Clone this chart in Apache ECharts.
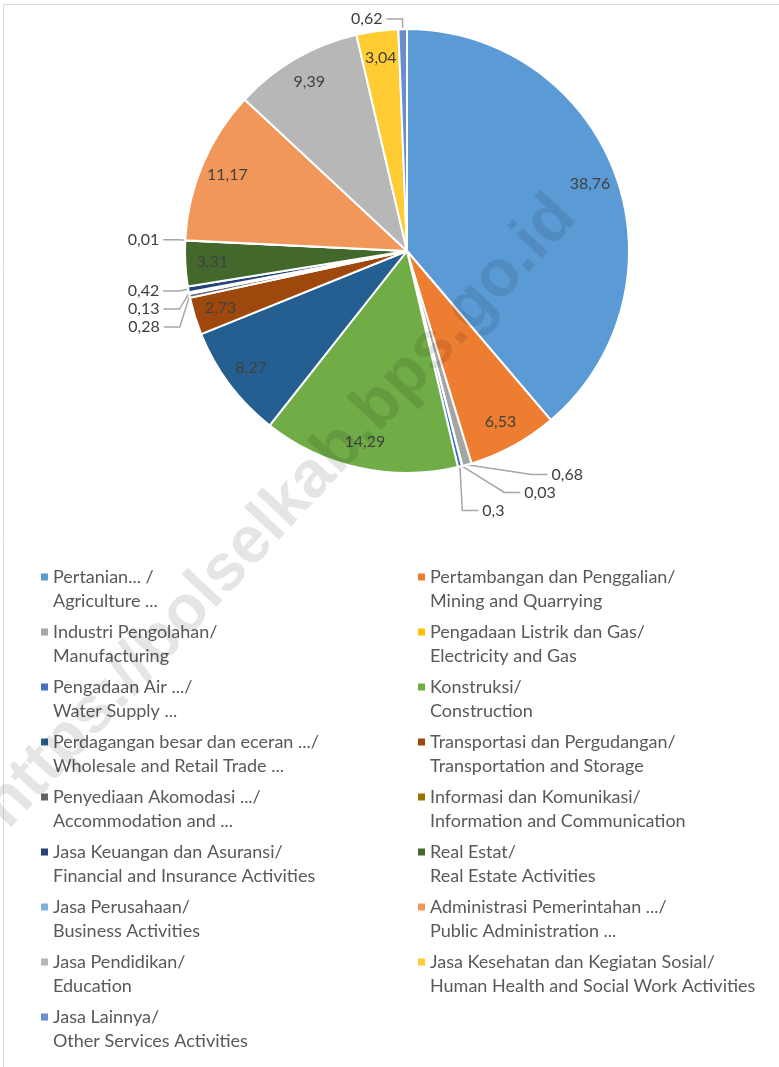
<!DOCTYPE html>
<html>
<head>
<meta charset="utf-8">
<script src="https://cdn.jsdelivr.net/npm/echarts@6/dist/echarts.min.js"></script>
<style>
html,body{margin:0;padding:0;background:#fff;}
#chart{width:779px;height:1067px;}
</style>
</head>
<body>
<div id="chart"></div>
<script>
// ---- data ----
const namesId = [
  'Pertanian... /', 'Pertambangan dan Penggalian/', 'Industri Pengolahan/',
  'Pengadaan Listrik dan Gas/', 'Pengadaan Air .../', 'Konstruksi/',
  'Perdagangan besar dan eceran .../', 'Transportasi dan Pergudangan/',
  'Penyediaan Akomodasi .../', 'Informasi dan Komunikasi/',
  'Jasa Keuangan dan Asuransi/', 'Real Estat/', 'Jasa Perusahaan/',
  'Administrasi Pemerintahan .../', 'Jasa Pendidikan/',
  'Jasa Kesehatan dan Kegiatan Sosial/', 'Jasa Lainnya/'
];
const namesEn = [
  'Agriculture ...', 'Mining and Quarrying', 'Manufacturing',
  'Electricity and Gas', 'Water Supply ...', 'Construction',
  'Wholesale and Retail Trade ...', 'Transportation and Storage',
  'Accommodation and ...', 'Information and Communication',
  'Financial and Insurance Activities', 'Real Estate Activities', 'Business Activities',
  'Public Administration ...', 'Education',
  'Human Health and Social Work Activities', 'Other Services Activities'
];
const values = [38.76, 6.53, 0.68, 0.03, 0.3, 14.29, 8.27, 2.73, 0.28, 0.13, 0.42, 3.31, 0.01, 11.17, 9.39, 3.04, 0.62];
const colors = ['#5B9BD5', '#ED7D31', '#A5A5A5', '#FFC000', '#4472C4', '#70AD47',
  '#255E91', '#9E480E', '#636363', '#997300', '#264478', '#43682B',
  '#7CAFDD', '#F1975A', '#B7B7B7', '#FFCD33', '#698ED0'];

// ---- build ----
const names = namesId.map((n, i) => n + '\n' + namesEn[i]);
const fmt = v => String(v).replace('.', ',');
const FONT = 'Lato';
const CENTER = [407, 251];
const R = 222;

const mainData = values.map((v, i) => ({
  name: names[i], value: v,
  itemStyle: { color: colors[i] },
  label: { show: v < 1 },
  labelLine: { show: v < 1 }
}));
const innerLabelData = values.map((v, i) => ({
  name: names[i], value: v,
  label: { show: v >= 1 }
}));

const legendBase = {
  orient: 'vertical',
  padding: 0,
  itemWidth: 7,
  itemHeight: 31,
  itemGap: 7,
  icon: 'path://M0,0L7,0L7,7L0,7Z M0,31L0.01,31L0.01,30.99Z',
  selectedMode: false,
  itemStyle: { borderWidth: 0 },
  textStyle: {
    fontFamily: FONT, fontSize: 18, color: '#595959', lineHeight: 24
  }
};

const chart = echarts.init(document.getElementById('chart'), null, { renderer: 'canvas' });
chart.setOption({
  animation: false,
  backgroundColor: '#fff',
  color: colors,
  legend: [
    Object.assign({}, legendBase, { left: 41, top: 565, data: names.filter((_, i) => i % 2 === 0) }),
    Object.assign({}, legendBase, { left: 418, top: 565, data: names.filter((_, i) => i % 2 === 1) })
  ],
  graphic: [
    { type: 'rect', silent: true, z: -10, shape: { x: 3.5, y: 4.5, width: 800, height: 1100 },
      style: { fill: null, stroke: '#D9D9D9', lineWidth: 1 } },
    { type: 'text', silent: true, z: 100, x: 280, y: 512, rotation: 47 * Math.PI / 180,
      style: { text: 'https://bolselkab.bps.go.id', fontFamily: 'Liberation Sans', fontWeight: 'bold',
        fontSize: 66, fill: 'rgba(0,0,0,0.10)', align: 'center', verticalAlign: 'middle' } }
  ],
  series: [
    {
      type: 'pie',
      center: CENTER,
      radius: [0, R],
      startAngle: 90,
      clockwise: true,
      avoidLabelOverlap: true,
      itemStyle: { borderColor: '#fff', borderWidth: 2 },
      label: {
        position: 'outside',
        formatter: p => fmt(p.value),
        fontFamily: FONT, fontSize: 16, color: '#404040',
        distanceToLabelLine: 4
      },
      labelLine: { length: 10, length2: 16, lineStyle: { color: '#A6A6A6', width: 1.5 } },
      emphasis: { disabled: true },
      data: mainData
    },
    {
      type: 'pie',
      center: CENTER,
      radius: [176, 208],
      startAngle: 90,
      clockwise: true,
      silent: true,
      z: 3,
      itemStyle: { color: 'rgba(0,0,0,0)' },
      label: {
        position: 'inside',
        formatter: p => fmt(p.value),
        fontFamily: FONT, fontSize: 16, color: '#404040'
      },
      labelLine: { show: false },
      emphasis: { disabled: true },
      data: innerLabelData
    }
  ]
});
</script>
</body>
</html>
